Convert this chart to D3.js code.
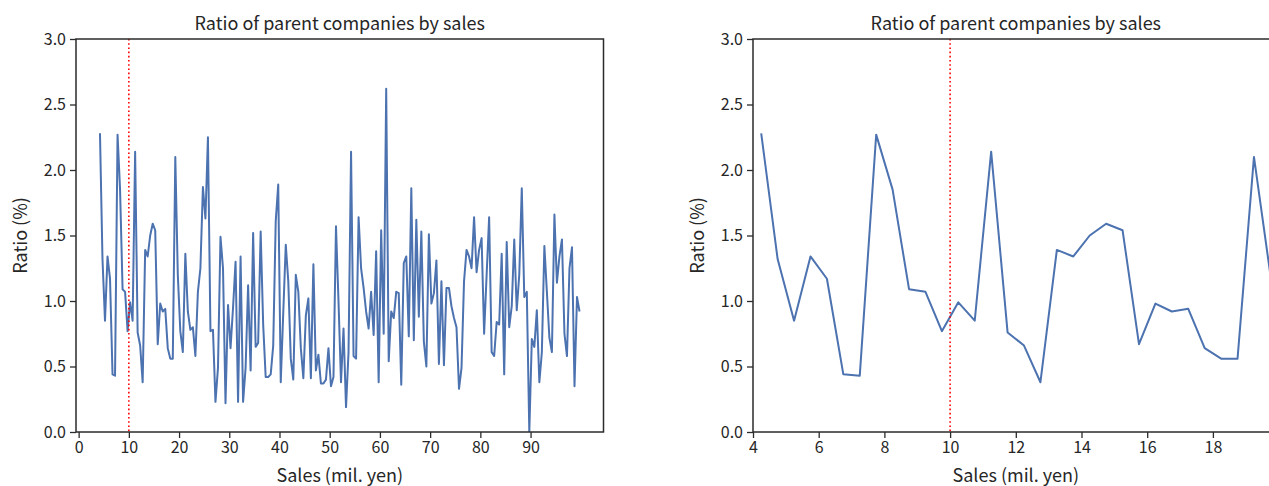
<!DOCTYPE html>
<html>
<head>
<meta charset="utf-8">
<script src="https://cdn.jsdelivr.net/npm/d3@7"></script>
<style>
  body { margin: 0; background: #fff; }
  text { font-family: "Noto Sans CJK JP", "Noto Sans", sans-serif; fill: #262626; }
</style>
</head>
<body>
<div id="chart"></div>
<script>
// sales bins (mil. yen)
var sales = [
  4.25, 4.75, 5.25, 5.75, 6.25, 6.75, 7.25, 7.75, 8.25, 8.75, 9.25, 9.75,
  10.25, 10.75, 11.25, 11.75, 12.25, 12.75, 13.25, 13.75, 14.25, 14.75, 15.25, 15.75,
  16.25, 16.75, 17.25, 17.75, 18.25, 18.75, 19.25, 19.75, 20.25, 20.75, 21.25, 21.75,
  22.25, 22.75, 23.25, 23.75, 24.25, 24.75, 25.25, 25.75, 26.25, 26.75, 27.25, 27.75,
  28.25, 28.75, 29.25, 29.75, 30.25, 30.75, 31.25, 31.75, 32.25, 32.75, 33.25, 33.75,
  34.25, 34.75, 35.25, 35.75, 36.25, 36.75, 37.25, 37.75, 38.25, 38.75, 39.25, 39.75,
  40.25, 40.75, 41.25, 41.75, 42.25, 42.75, 43.25, 43.75, 44.25, 44.75, 45.25, 45.75,
  46.25, 46.75, 47.25, 47.75, 48.25, 48.75, 49.25, 49.75, 50.25, 50.75, 51.25, 51.75,
  52.25, 52.75, 53.25, 53.75, 54.25, 54.75, 55.25, 55.75, 56.25, 56.75, 57.25, 57.75,
  58.25, 58.75, 59.25, 59.75, 60.25, 60.75, 61.25, 61.75, 62.25, 62.75, 63.25, 63.75,
  64.25, 64.75, 65.25, 65.75, 66.25, 66.75, 67.25, 67.75, 68.25, 68.75, 69.25, 69.75,
  70.25, 70.75, 71.25, 71.75, 72.25, 72.75, 73.25, 73.75, 74.25, 74.75, 75.25, 75.75,
  76.25, 76.75, 77.25, 77.75, 78.25, 78.75, 79.25, 79.75, 80.25, 80.75, 81.25, 81.75,
  82.25, 82.75, 83.25, 83.75, 84.25, 84.75, 85.25, 85.75, 86.25, 86.75, 87.25, 87.75,
  88.25, 88.75, 89.25, 89.75, 90.25, 90.75, 91.25, 91.75, 92.25, 92.75, 93.25, 93.75,
  94.25, 94.75, 95.25, 95.75, 96.25, 96.75, 97.25, 97.75, 98.25, 98.75, 99.25, 99.75
];

// ratio of parent companies (%)
var ratio = [
  2.28, 1.32, 0.85, 1.34, 1.17, 0.44, 0.43, 2.27, 1.85, 1.09, 1.07, 0.77,
  0.99, 0.85, 2.14, 0.76, 0.66, 0.38, 1.39, 1.34, 1.50, 1.59, 1.54, 0.67,
  0.98, 0.92, 0.94, 0.64, 0.56, 0.56, 2.10, 1.20, 0.77, 0.61, 1.36, 0.92,
  0.78, 0.80, 0.58, 1.07, 1.25, 1.87, 1.63, 2.25, 0.77, 0.78, 0.23, 0.49,
  1.49, 1.25, 0.22, 0.97, 0.64, 0.95, 1.30, 0.23, 1.34, 0.23, 0.49, 1.12,
  0.47, 1.52, 0.65, 0.68, 1.53, 0.82, 0.42, 0.42, 0.44, 0.66, 1.61, 1.89,
  0.38, 0.91, 1.43, 1.15, 0.56, 0.40, 1.20, 1.07, 0.64, 0.41, 0.89, 1.02,
  0.41, 1.28, 0.47, 0.59, 0.37, 0.37, 0.40, 0.64, 0.35, 0.42, 1.57, 1.00,
  0.38, 0.79, 0.19, 0.61, 2.14, 0.58, 0.56, 1.64, 1.25, 1.10, 0.92, 0.79,
  1.07, 0.74, 1.38, 0.38, 1.54, 0.75, 2.62, 0.54, 0.92, 0.87, 1.07, 1.06,
  0.36, 1.29, 1.34, 0.73, 1.86, 0.70, 1.62, 0.88, 1.53, 0.69, 0.50, 1.51,
  0.98, 1.06, 1.31, 0.52, 1.15, 0.51, 1.10, 1.10, 0.96, 0.87, 0.80, 0.33,
  0.49, 1.15, 1.39, 1.34, 1.25, 1.64, 1.22, 1.39, 1.48, 0.75, 1.20, 1.64,
  0.61, 0.58, 0.84, 0.82, 1.36, 0.44, 1.45, 0.80, 0.96, 1.47, 0.93, 1.20,
  1.86, 1.03, 1.07, 0.00, 0.71, 0.65, 0.93, 0.38, 0.61, 1.42, 1.07, 0.72,
  0.61, 1.66, 1.14, 1.34, 1.47, 0.75, 0.58, 1.25, 1.41, 0.35, 1.03, 0.92
];

var yTicks = [0, 0.5, 1.0, 1.5, 2.0, 2.5, 3.0];
var leftXTicks = [0, 10, 20, 30, 40, 50, 60, 70, 80, 90];
var rightXTicks = [4, 6, 8, 10, 12, 14, 16, 18];
var threshold = 10;

var svgWidth = 1269, svgHeight = 486;
var plotTop = 39, plotBottom = 432;

var svg = d3.select("#chart").append("svg")
  .attr("width", svgWidth)
  .attr("height", svgHeight);

var data = sales.map(function(s, i) { return { x: s, y: ratio[i] }; });

function drawPanel(id, x0, x1, domain, xTicks) {
  var x = d3.scaleLinear().domain(domain).range([x0, x1]);
  var y = d3.scaleLinear().domain([0, 3]).range([plotBottom, plotTop]);

  var g = svg.append("g");

  g.append("clipPath").attr("id", "clip" + id)
    .append("rect")
    .attr("x", x0).attr("y", plotTop)
    .attr("width", x1 - x0).attr("height", plotBottom - plotTop);

  var plot = g.append("g").attr("clip-path", "url(#clip" + id + ")");

  var line = d3.line().x(d => x(d.x)).y(d => y(d.y));
  plot.append("path")
    .datum(data)
    .attr("fill", "none")
    .attr("stroke", "#4c72b0")
    .attr("stroke-width", 2)
    .attr("stroke-linejoin", "round")
    .attr("d", line);

  plot.append("line")
    .attr("x1", x(threshold)).attr("x2", x(threshold))
    .attr("y1", plotTop).attr("y2", plotBottom)
    .attr("stroke", "red")
    .attr("stroke-width", 1.6)
    .attr("stroke-dasharray", "1.6,2.6");

  // axes
  var xAxis = d3.axisBottom(x).tickValues(xTicks).tickSize(6).tickPadding(4)
    .tickFormat(d3.format("d"));
  var yAxis = d3.axisLeft(y).tickValues(yTicks).tickSize(6).tickPadding(4)
    .tickFormat(d3.format(".1f"));

  var gx = g.append("g").attr("transform", `translate(0, ${plotBottom})`).call(xAxis);
  var gy = g.append("g").attr("transform", `translate(${x0}, 0)`).call(yAxis);
  [gx, gy].forEach(function(a) {
    a.select(".domain").remove();
    a.selectAll(".tick line").attr("stroke", "#2b2b2b").attr("stroke-width", 1.3);
    a.selectAll(".tick text").style("font-size", "16px").attr("fill", "#262626");
  });

  // frame
  g.append("rect")
    .attr("x", x0).attr("y", plotTop)
    .attr("width", x1 - x0).attr("height", plotBottom - plotTop)
    .attr("fill", "none")
    .attr("stroke", "#2b2b2b")
    .attr("stroke-width", 1.5);

  var cx = (x0 + x1) / 2;
  g.append("text")
    .attr("x", cx).attr("y", plotTop - 9)
    .attr("text-anchor", "middle")
    .style("font-size", "18px")
    .text("Ratio of parent companies by sales");

  g.append("text")
    .attr("x", cx).attr("y", plotBottom + 50)
    .attr("text-anchor", "middle")
    .style("font-size", "18px")
    .text("Sales (mil. yen)");

  g.append("text")
    .attr("transform", `translate(${x0 - 49}, ${(plotTop + plotBottom) / 2}) rotate(-90)`)
    .attr("text-anchor", "middle")
    .style("font-size", "18px")
    .text("Ratio (%)");
}

drawPanel("a", 76, 603.5, [-0.525, 104.525], leftXTicks);
drawPanel("b", 753, 1278.6, [4, 20], rightXTicks);
</script>
</body>
</html>
